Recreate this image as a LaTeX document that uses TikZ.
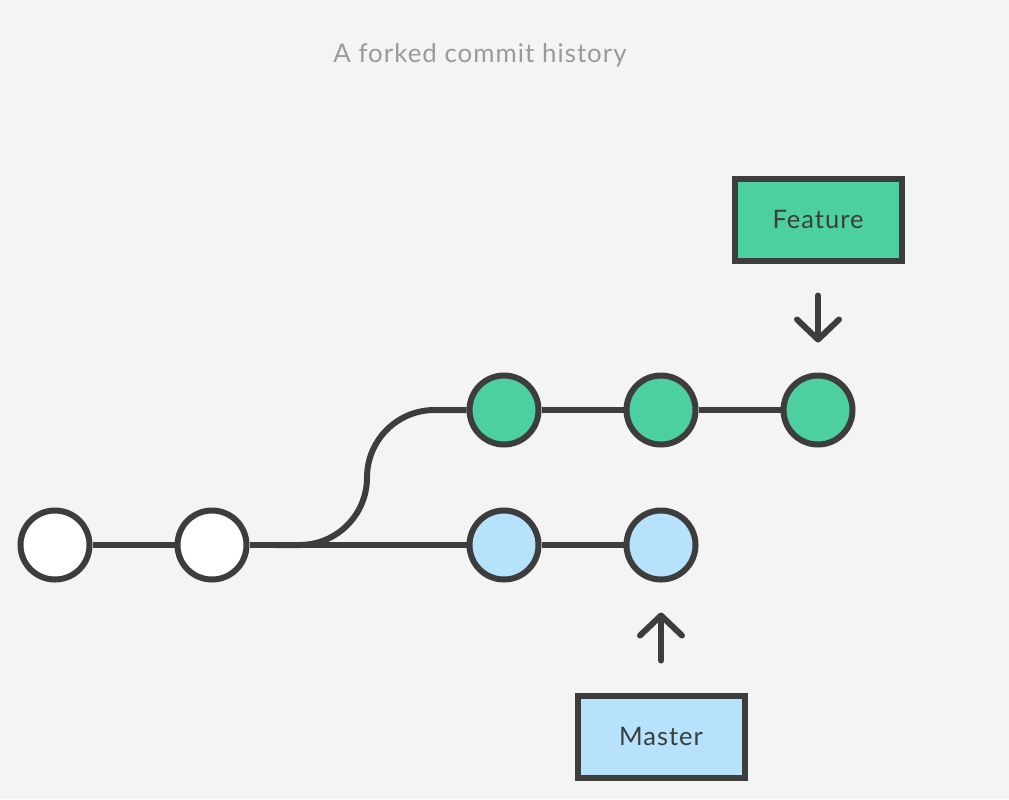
\documentclass[tikz,border=0pt]{standalone}
\usepackage{fontspec}
\setmainfont{Lato}
\usetikzlibrary{arrows.meta,positioning}
\definecolor{gitbg}{HTML}{F4F4F4}
\definecolor{gitline}{HTML}{3D3D3D}
\definecolor{featgreen}{HTML}{4DD0A0}
\definecolor{masterblue}{HTML}{B7E2FC}
\definecolor{captiongray}{HTML}{9A9A9A}

\begin{document}
\begin{tikzpicture}[
  commit/.style={circle, draw=gitline, line width=0.12cm, minimum size=1.38cm,
               inner sep=0pt},
  branchbox/.style={draw=gitline, line width=0.12cm, minimum width=3.34cm,
               minimum height=1.64cm, text=gitline,
               font=\fontsize{14.5}{17}\selectfont\addfontfeatures{LetterSpace=4}},
  edge/.style={gitline, line width=0.12cm},
  ptr/.style={-{Straight Barb[length=0.4cm,width=0.84cm,round]}, gitline,
               line width=0.12cm, line cap=round, shorten <=0.64cm, shorten >=0.6cm},
  node distance=1.64cm
]
  \fill[gitbg] (0,0) rectangle (20.18,-15.98);
  \useasboundingbox (0,0) rectangle (20.18,-15.98);

  \node[text=captiongray, font=\fontsize{14.7}{17}\selectfont\addfontfeatures{LetterSpace=4}]
    (title) at (9.6,-1.1) {A forked commit history};

  % shared history
  \node[commit, fill=white] (c1) at (1.1,-10.9) {};
  \node[commit, fill=white, right=of c1] (c2) {};

  % master line
  \node[commit, fill=masterblue, right=4.34cm of c2] (m1) {};
  \node[commit, fill=masterblue, right=of m1] (m2) {};

  % feature line
  \node[commit, fill=featgreen, above=1.2cm of m1] (f1) {};
  \node[commit, fill=featgreen, right=of f1] (f2) {};
  \node[commit, fill=featgreen, right=of f2] (f3) {};

  % branch labels
  \node[branchbox, fill=featgreen, above=2.18cm of f3] (feat) {Feature};
  \node[branchbox, fill=masterblue, below=2.2cm of m2] (master) {Master};

  \coordinate[right=1cm of c2] (fork);

  \draw[edge] (c1) -- (c2);
  \draw[edge] (c2) -- (m1);
  \draw[edge] (m1) -- (m2);
  \draw[edge] ([xshift=-0.5cm]fork) -- (fork)
    arc[start angle=-90, end angle=0, radius=1.35cm]
    arc[start angle=180, end angle=90, radius=1.35cm] -- (f1);
  \draw[edge] (f1) -- (f2);
  \draw[edge] (f2) -- (f3);

  \draw[ptr] (feat) -- (f3);
  \draw[ptr] (master) -- (m2);
\end{tikzpicture}
\end{document}
